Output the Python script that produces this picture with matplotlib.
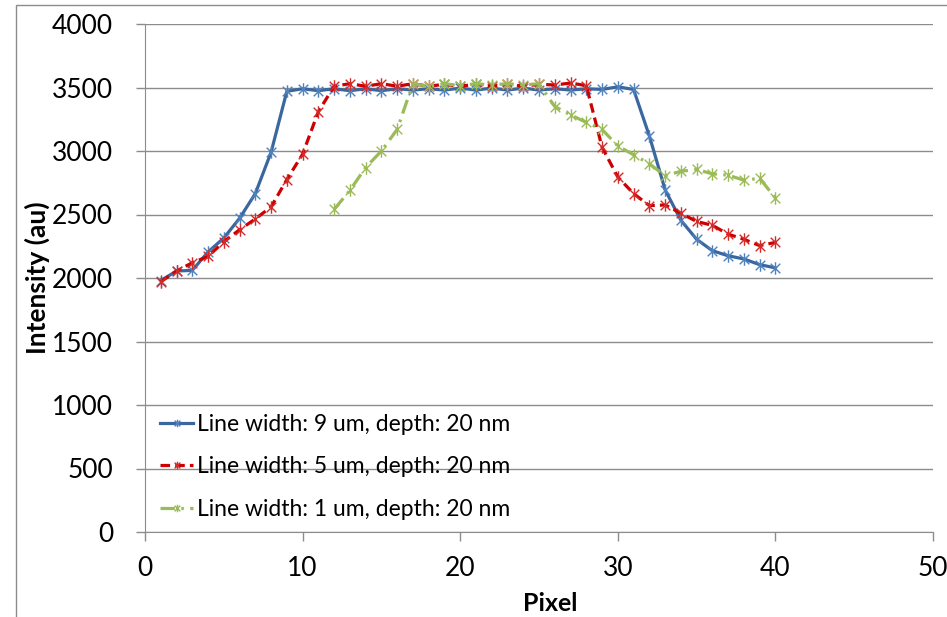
import matplotlib
matplotlib.use('Agg')
import matplotlib.pyplot as plt
from matplotlib.path import Path
from matplotlib.patches import Rectangle

# Intensity profiles across the line (pixel index -> intensity in au)
pixels = list(range(1, 41))
width_9um = [1980, 2055, 2060, 2205, 2315, 2470, 2665, 2990, 3470, 3490,
             3475, 3490, 3475, 3490, 3475, 3490, 3480, 3490, 3480, 3495,
             3480, 3495, 3480, 3495, 3480, 3490, 3480, 3490, 3485, 3505,
             3485, 3120, 2695, 2455, 2305, 2215, 2175, 2150, 2105, 2080]
width_5um = [1970, 2055, 2120, 2170, 2285, 2380, 2465, 2560, 2775, 2975,
             3310, 3510, 3530, 3510, 3530, 3510, 3530, 3510, 3525, 3510,
             3525, 3510, 3525, 3510, 3525, 3520, 3535, 3515, 3030, 2795,
             2665, 2570, 2575, 2510, 2445, 2415, 2345, 2305, 2255, 2280]
pixels_1um = list(range(12, 41))
width_1um = [2540, 2690, 2870, 3000, 3170, 3530, 3510, 3530, 3515, 3530,
             3520, 3530, 3520, 3530, 3350, 3285, 3225, 3170, 3040, 2970,
             2900, 2805, 2840, 2855, 2820, 2810, 2770, 2785, 2630]

labels = ['Line width: 9 um, depth: 20 nm',
          'Line width: 5 um, depth: 20 nm',
          'Line width: 1 um, depth: 20 nm']

plt.rcParams['font.family'] = ['Lato', 'DejaVu Sans']

# asterisk marker: an "x" with a vertical stroke through it
star = Path([(-1, -1), (1, 1), (-1, 1), (1, -1), (0, -1.3), (0, 1.3)],
            [Path.MOVETO, Path.LINETO, Path.MOVETO, Path.LINETO,
             Path.MOVETO, Path.LINETO])

fig = plt.figure(figsize=(9.47, 6.17), dpi=100)
ax = fig.add_axes([145 / 947, 85 / 617, 788 / 947, 508 / 617])

# chart frame
fig.patches.append(Rectangle((16 / 947, -0.1), 1.2, (617 - 5) / 617 + 0.1,
                             transform=fig.transFigure, fill=False,
                             edgecolor='#8c8c8c', linewidth=1))

ax.plot(pixels, width_9um, color='#3a679e', lw=2.3, marker=star,
        markersize=9, markeredgewidth=1, markeredgecolor='#4f81bd',
        label=labels[0])
ax.plot(pixels, width_5um, color='#cc0000', lw=2.3, dashes=(3, 1.6),
        marker=star, markersize=9, markeredgewidth=1,
        markeredgecolor='#d42a2a', label=labels[1])
ax.plot(pixels_1um, width_1um, color='#9bbb59', lw=2.3,
        dashes=(4.5, 2, 0.8, 2), marker=star, markersize=9,
        markeredgewidth=1, markeredgecolor='#9bbb59', label=labels[2])

ax.set_xlim(0, 50)
ax.set_ylim(0, 4000)
ax.set_xticks(range(0, 51, 10))
ax.set_yticks(range(0, 4001, 500))

ax.grid(axis='y', color='#8c8c8c', linewidth=1)
ax.set_axisbelow(True)
for side in ['top', 'right']:
    ax.spines[side].set_visible(False)
for side in ['left', 'bottom']:
    ax.spines[side].set_color('#8c8c8c')
ax.tick_params(axis='both', direction='out', length=6.5, width=1,
               color='#8c8c8c', labelsize=19)
ax.tick_params(axis='x', pad=11)
ax.tick_params(axis='y', pad=16.5)

ax.set_xlabel('Pixel', fontsize=18, fontweight='bold')
ax.set_ylabel('Intensity (au)', fontsize=19, fontweight='bold')
ax.xaxis.set_label_coords(0.514, -0.118)
ax.yaxis.set_label_coords(-0.12, 0.5)

ax.legend(loc='upper left', bbox_to_anchor=(0.0076, 0.251), frameon=False,
          fontsize=16.5, handlelength=1.44, handletextpad=0.17,
          labelspacing=0.95, borderaxespad=0, markerscale=0.6)

plt.savefig('out.png', dpi=100)
